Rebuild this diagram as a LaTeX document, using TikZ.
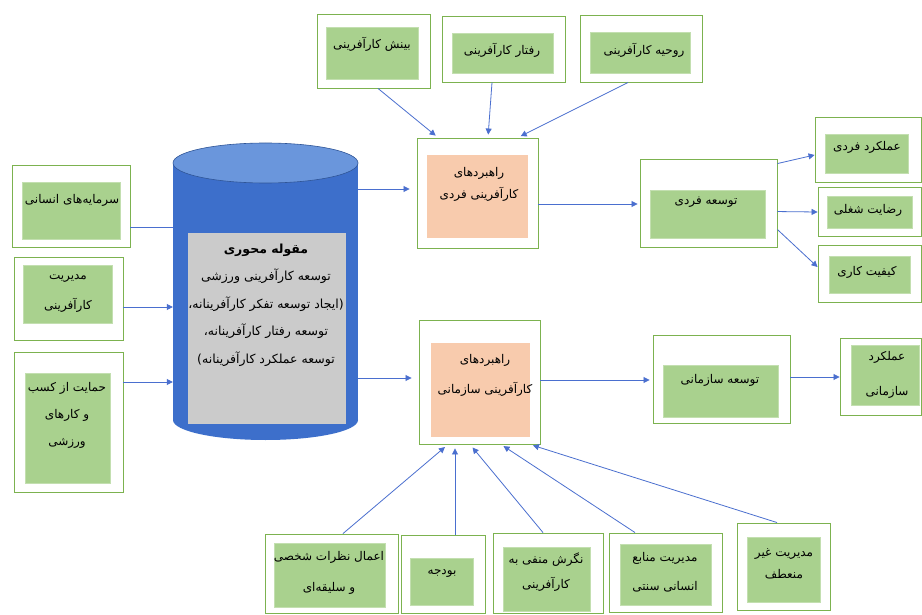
\documentclass[tikz,border=0pt]{standalone}
\usepackage{fontspec}
\newfontfamily\fafont[Script=Arabic]{DejaVu Sans}
\TeXXeTstate=1
\usetikzlibrary{arrows.meta}
\newcommand\fatxt[1]{\beginR #1\endR}
\definecolor{ogreen}{HTML}{7CB24F}
\definecolor{igreen}{HTML}{A9D18E}
\definecolor{iorange}{HTML}{F8CBAD}
\definecolor{ablue}{HTML}{4A6FCF}
\definecolor{cylbody}{HTML}{3D6FCB}
\definecolor{cyltop}{HTML}{6A96DC}
\definecolor{cyledge}{HTML}{2F5597}
\definecolor{grayfill}{HTML}{CBCBCB}
\tikzset{
  outer/.style={draw=ogreen, line width=0.9pt, fill=white, inner sep=0pt},
  inner/.style={fill=igreen, draw=igreen!70!white, line width=0.4pt, inner sep=0pt},
  orng/.style={fill=iorange, inner sep=0pt},
  txt/.style={font=\fafont\fontsize{12}{#1}\selectfont, inner sep=0pt, align=center},
  txt/.default=26,
  ctxt/.style={font=\fafont\fontsize{12.5}{#1}\selectfont, inner sep=0pt, align=center},
  arr/.style={draw=ablue, line width=0.8pt, -{Triangle[length=6pt,width=6pt]}},
  ln/.style={draw=ablue, line width=0.8pt},
}
\begin{document}
\begin{tikzpicture}[x=1pt,y=-1pt]
\useasboundingbox (0,0) rectangle (922,615);
\fill[white] (0,0) rectangle (922,615);

% top boxes
\node[outer, minimum width=113pt, minimum height=74pt] (bin) at (373.5,51) {};
\node[inner, minimum width=92pt, minimum height=52pt] (binI) at (372,53) {};
\node[txt] (binT) at (372,44) {\fatxt{بینش کارآفرینی}};

\node[outer, minimum width=123pt, minimum height=66pt] (raf) at (503.5,49) {};
\node[inner, minimum width=101pt, minimum height=40pt] (rafI) at (502.5,53) {};
\node[txt] (rafT) at (502,50) {\fatxt{رفتار کارآفرینی}};

\node[outer, minimum width=122pt, minimum height=67pt] (rou) at (641,48.5) {};
\node[inner, minimum width=100pt, minimum height=41pt] (rouI) at (640,52.5) {};
\node[txt] (rouT) at (644,50) {\fatxt{روحیه کارآفرینی}};

% left boxes
\node[outer, minimum width=118pt, minimum height=82pt] (sar) at (71,206) {};
\node[inner, minimum width=98pt, minimum height=57pt] (sarI) at (71,210.5) {};
\node[txt] (sarT) at (72,200) {\fatxt{سرمایه‌های انسانی}};

\node[outer, minimum width=109pt, minimum height=83pt] (mod) at (68.5,298.5) {};
\node[inner, minimum width=89pt, minimum height=58pt] (modI) at (67.5,294) {};
\node[txt=30] (modT) at (68,293) {\fatxt{مدیریت}\\\fatxt{کارآفرینی}};

\node[outer, minimum width=109pt, minimum height=140pt] (ham) at (68.5,422) {};
\node[inner, minimum width=85pt, minimum height=110pt] (hamI) at (67.5,428) {};
\node[txt=27] (hamT) at (67,415) {\fatxt{حمایت از کسب}\\\fatxt{و کارهای}\\\fatxt{ورزشی}};

% cylinder
\node[minimum width=185pt, minimum height=297pt, inner sep=0pt] (cyl) at (265.5,291.5) {};
\fill[cylbody] (265.5,420) ellipse [x radius=92.5, y radius=20];
\fill[cylbody] (173,163) rectangle (358,420);
\filldraw[fill=cyltop, draw=cyledge, line width=0.6pt] (265.5,163) ellipse [x radius=92.5, y radius=20];
\node[fill=grayfill, draw=gray!40, minimum width=157pt, minimum height=190pt, inner sep=0pt] (core) at (266.5,328) {};
\node[ctxt=27.5] (coreT) at (266,305) {{\bfseries\fatxt{مقوله محوری}}\\\fatxt{توسعه کارآفرینی ورزشی}\\\fatxt{(ایجاد  توسعه تفکر کارآفرینانه،}\\\fatxt{توسعه رفتار  کارآفرینانه،}\\\fatxt{توسعه عملکرد کارآفرینانه)}};

% strategy boxes
\node[outer, minimum width=121pt, minimum height=110pt] (ind) at (477.5,193) {};
\node[orng, minimum width=101pt, minimum height=83pt] (indI) at (477.5,196.5) {};
\node[txt=22] (indT) at (479,184) {\fatxt{راهبردهای}\\\fatxt{کارآفرینی فردی}};

\node[outer, minimum width=121pt, minimum height=124pt] (org) at (479.5,382) {};
\node[orng, minimum width=99pt, minimum height=94pt] (orgI) at (480.5,390) {};
\node[txt=30] (orgT) at (485,375) {\fatxt{راهبردهای}\\\fatxt{کارآفرینی سازمانی}};

% outcome boxes
\node[outer, minimum width=137pt, minimum height=88pt] (tf) at (708.5,203) {};
\node[inner, minimum width=115pt, minimum height=48pt] (tfI) at (707.5,214) {};
\node[txt] (tfT) at (706,202) {\fatxt{توسعه فردی}};

\node[outer, minimum width=106pt, minimum height=65pt] (af) at (868,149.5) {};
\node[inner, minimum width=83pt, minimum height=39pt] (afI) at (866.5,153.5) {};
\node[txt] (afT) at (867,147) {\fatxt{عملکرد فردی}};

\node[outer, minimum width=103pt, minimum height=49pt] (rez) at (869.5,211.5) {};
\node[inner, minimum width=85pt, minimum height=32pt] (rezI) at (869.5,212) {};
\node[txt] (rezT) at (868,210) {\fatxt{رضایت شغلی}};

\node[outer, minimum width=103pt, minimum height=57pt] (kef) at (869.5,273.5) {};
\node[inner, minimum width=81pt, minimum height=37pt] (kefI) at (869.5,274.5) {};
\node[txt] (kefT) at (867,272) {\fatxt{کیفیت کاری}};

\node[outer, minimum width=137pt, minimum height=88pt] (ts) at (721.5,379) {};
\node[inner, minimum width=115pt, minimum height=52pt] (tsI) at (720.5,391) {};
\node[txt] (tsT) at (720,380) {\fatxt{توسعه سازمانی}};

\node[outer, minimum width=81pt, minimum height=77pt] (as) at (880.5,376.5) {};
\node[inner, minimum width=68pt, minimum height=60pt] (asI) at (885,375) {};
\node[txt=35] (asT) at (887,374.5) {\fatxt{عملکرد}\\\fatxt{سازمانی}};

% bottom boxes
\node[outer, minimum width=133pt, minimum height=79pt] (aem) at (331.5,573.5) {};
\node[inner, minimum width=111pt, minimum height=64pt] (aemI) at (329.5,575) {};
\node[txt=31] (aemT) at (329,572.5) {\fatxt{اعمال نظرات شخصی}\\\fatxt{و سلیقه‌ای}};

\node[outer, minimum width=84pt, minimum height=78pt] (bud) at (443,574) {};
\node[inner, minimum width=63pt, minimum height=47pt] (budI) at (441.5,581.5) {};
\node[txt] (budT) at (442,573) {\fatxt{بودجه}};

\node[outer, minimum width=110pt, minimum height=80pt] (neg) at (548,573) {};
\node[inner, minimum width=87pt, minimum height=64pt] (negI) at (546.5,579) {};
\node[txt=25] (negT) at (546,572.5) {\fatxt{نگرش منفی به}\\\fatxt{کارآفرینی}};

\node[outer, minimum width=113pt, minimum height=79pt] (man) at (665.5,572.5) {};
\node[inner, minimum width=91pt, minimum height=61pt] (manI) at (665.5,574.5) {};
\node[txt=29] (manT) at (665,572.5) {\fatxt{مدیریت منابع}\\\fatxt{انسانی سنتی}};

\node[outer, minimum width=93pt, minimum height=87pt] (ghe) at (783.5,566.5) {};
\node[inner, minimum width=73pt, minimum height=65pt] (gheI) at (783.5,569.5) {};
\node[txt=22] (gheT) at (784,564) {\fatxt{مدیریت غیر}\\\fatxt{منعطف}};

% connectors: top to individual strategies
\draw[arr, shorten >=3pt] ([xshift=4.5pt]bin.south) -- ([xshift=-39.5pt]ind.north);
\draw[arr, shorten >=3pt] ([xshift=-11.5pt]raf.south) -- ([xshift=10.5pt]ind.north);
\draw[arr, shorten >=3pt] ([xshift=-13pt]rou.south) -- ([xshift=40.5pt]ind.north);

% left to cylinder
\draw[ln] ([yshift=-21pt]sar.east) -- ([yshift=-21pt]sar.east -| cyl.west);
\draw[arr] ([yshift=-8.5pt]mod.east) -- ([yshift=-8.5pt]mod.east -| cyl.west);
\draw[arr] ([yshift=40pt]ham.east) -- ([yshift=40pt]ham.east -| cyl.west);

% cylinder to strategies
\draw[arr, shorten >=7pt] ([yshift=4pt]ind.west -| cyl.east) -- ([yshift=4pt]ind.west);
\draw[arr, shorten >=7pt] ([yshift=4pt]org.west -| cyl.east) -- ([yshift=4pt]org.west);

% strategies to outcomes
\draw[arr, shorten >=2pt] ([yshift=-11pt]ind.east) -- ([yshift=-1pt]tf.west);
\draw[arr, shorten >=3pt] ([yshift=2pt]org.east) -- ([yshift=-1pt]ts.west);
\draw[arr] ([yshift=-5pt]tf.north east) -- (af.west |- 0,155);
\draw[arr] ([yshift=-53pt]tf.north east) -- (rez.west |- 0,212);
\draw[arr] ([yshift=-71pt]tf.north east) -- (kef.west |- 0,267);
\draw[arr] ([yshift=2pt]ts.east) -- (as.west |- 0,377);

% bottom to organisational strategies
\draw[arr, shorten >=4pt] ([xshift=11.5pt]aem.north) -- ([xshift=-31.5pt]org.south);
\draw[arr, shorten >=4pt] ([xshift=12pt]bud.north) -- ([xshift=-24.5pt]org.south);
\draw[arr, shorten >=4pt] ([xshift=-5pt]neg.north) -- ([xshift=-9.5pt]org.south);
\draw[arr, shorten >=3pt] ([xshift=-30.5pt]man.north) -- ([xshift=21.5pt]org.south);
\draw[arr, shorten >=3pt] ([xshift=-6.5pt]ghe.north) -- ([xshift=50.5pt]org.south);
\end{tikzpicture}
\end{document}
